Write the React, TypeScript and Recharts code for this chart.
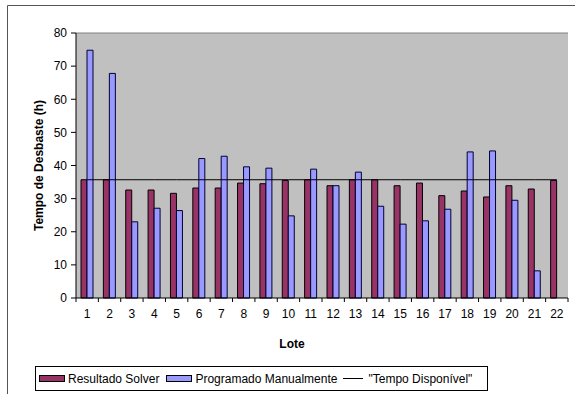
import React from 'react';
import { ComposedChart, Bar, Line, XAxis, YAxis, CartesianGrid, ReferenceLine, Legend, Customized } from 'recharts';

const lotes = ['1', '2', '3', '4', '5', '6', '7', '8', '9', '10', '11', '12', '13', '14', '15', '16', '17', '18', '19', '20', '21', '22'];
const resultadoSolver = [35.7, 35.7, 32.6, 32.6, 31.6, 33.2, 33.2, 34.7, 34.5, 35.5, 35.7, 33.9, 35.7, 35.7, 33.9, 34.7, 30.9, 32.3, 30.5, 33.9, 32.9, 35.5];
const programadoManualmente: (number | null)[] = [74.8, 67.8, 23.0, 27.1, 26.4, 42.1, 42.8, 39.6, 39.2, 24.8, 38.9, 33.9, 38.0, 27.7, 22.3, 23.3, 26.8, 44.1, 44.4, 29.5, 8.2, null];
const tempoDisponivel = 35.7;
const yTicks = [0, 10, 20, 30, 40, 50, 60, 70, 80];
const seriesNames = ['Resultado Solver', 'Programado Manualmente', '"Tempo Disponível"'];

const data = lotes.map((lote, i) => ({
  lote,
  solver: resultadoSolver[i],
  manual: programadoManualmente[i],
  tempo: tempoDisponivel,
}));

const FONT = '"Liberation Sans", Arial, sans-serif';
const X_TICK_SIZE = 6;
const X_TICK_MARGIN = 5;
const BOUNDARY_TICK = 4;

// Category tick: label at the category centre plus tick marks on the category boundaries
function LoteTick(props: any) {
  const { x, y, payload, index } = props;
  const half = payload && payload.offset ? payload.offset : 0;
  const axisY = y - X_TICK_SIZE - X_TICK_MARGIN;
  return (
    <g>
      {index === 0 && <line x1={x - half} x2={x - half} y1={axisY} y2={axisY + BOUNDARY_TICK} stroke="#000" />}
      <line x1={x + half} x2={x + half} y1={axisY} y2={axisY + BOUNDARY_TICK} stroke="#000" />
      <text x={x} y={y} dy="0.71em" textAnchor="middle" fill="#000" fontSize={12} fontFamily={FONT}>
        {payload.value}
      </text>
    </g>
  );
}

function Frame() {
  return <path d="M7.5,394 L7.5,5.5 L575,5.5" fill="none" stroke="#555" strokeWidth={1} />;
}

function LegendBox(props: any) {
  const payload: any[] = [...(props.payload || [])].sort(
    (a: any, b: any) => seriesNames.indexOf(a.value) - seriesNames.indexOf(b.value)
  );
  return (
    <div
      style={{
        boxSizing: 'border-box', width: 453, height: 25, border: '1px solid #000', background: '#fff',
        display: 'flex', alignItems: 'center', fontSize: 12, fontFamily: FONT, color: '#000', whiteSpace: 'nowrap',
      }}
    >
      {payload.map((p: any, i: number) => (
        <React.Fragment key={i}>
          {p.type === 'line' ? (
            <span style={{ display: 'inline-block', width: 20, height: 0, borderTop: '1px solid #000', marginLeft: 6, marginRight: 5 }} />
          ) : (
            <span style={{ display: 'inline-block', width: 24, height: 5, background: p.color, border: '1px solid #000', marginLeft: i === 0 ? 3 : 7, marginRight: 3 }} />
          )}
          <span>{p.value}</span>
        </React.Fragment>
      ))}
    </div>
  );
}

export default function App() {
  return (
    <div style={{ position: 'absolute', left: 0, top: 0, width: 575, height: 394, overflow: 'hidden', background: '#fff', fontFamily: FONT }}>
      <div style={{ position: 'absolute', left: 76, top: 33, width: 492, height: 265, background: '#C0C0C0', boxShadow: 'inset -1px 1px 0 #808080' }} />
      <div style={{ position: 'absolute', left: 0, top: 0 }}>
        <ComposedChart width={575} height={394} data={data} margin={{ top: 33, right: 7, bottom: 36, left: 0 }} barGap={0}>
          <Customized component={<Frame />} />
          <CartesianGrid horizontal={false} vertical={false} fill="#C0C0C0" fillOpacity={1} />
          <ReferenceLine y={80} stroke="#808080" strokeWidth={1} />
          <XAxis
            dataKey="lote"
            interval={0}
            height={60}
            axisLine={{ stroke: '#000' }}
            tickLine={false}
            tickSize={X_TICK_SIZE}
            tickMargin={X_TICK_MARGIN}
            tick={<LoteTick />}
            label={{ value: 'Lote', position: 'insideBottom', offset: 10, dx: -30, fill: '#000', fontSize: 12, fontWeight: 'bold', fontFamily: FONT }}
          />
          <YAxis
            domain={[0, 80]}
            ticks={yTicks}
            width={76}
            tickSize={5}
            tickMargin={4}
            axisLine={{ stroke: '#000' }}
            tickLine={{ stroke: '#000' }}
            tick={{ fill: '#000', fontSize: 12, fontFamily: FONT }}
            label={{ value: 'Tempo de Desbaste (h)', angle: -90, position: 'center', dx: 1, fill: '#000', fontSize: 12, fontWeight: 'bold', fontFamily: FONT }}
          />
          <Legend
            layout="vertical"
            align="center"
            verticalAlign="middle"
            content={<LegendBox />}
            wrapperStyle={{ position: 'absolute', left: 35, top: 366, width: 453, height: 25, margin: 0, padding: 0 }}
          />
          <Bar dataKey="solver" name="Resultado Solver" fill="#993366" stroke="#000" strokeWidth={1} barSize={6} isAnimationActive={false} />
          <Bar dataKey="manual" name="Programado Manualmente" fill="#9999FF" stroke="#000033" strokeWidth={1} barSize={6} isAnimationActive={false} />
          <Line dataKey="tempo" name={'"Tempo Disponível"'} legendType="line" type="linear" stroke="#000" strokeWidth={1} dot={false} activeDot={false} isAnimationActive={false} />
        </ComposedChart>
      </div>
    </div>
  );
}
